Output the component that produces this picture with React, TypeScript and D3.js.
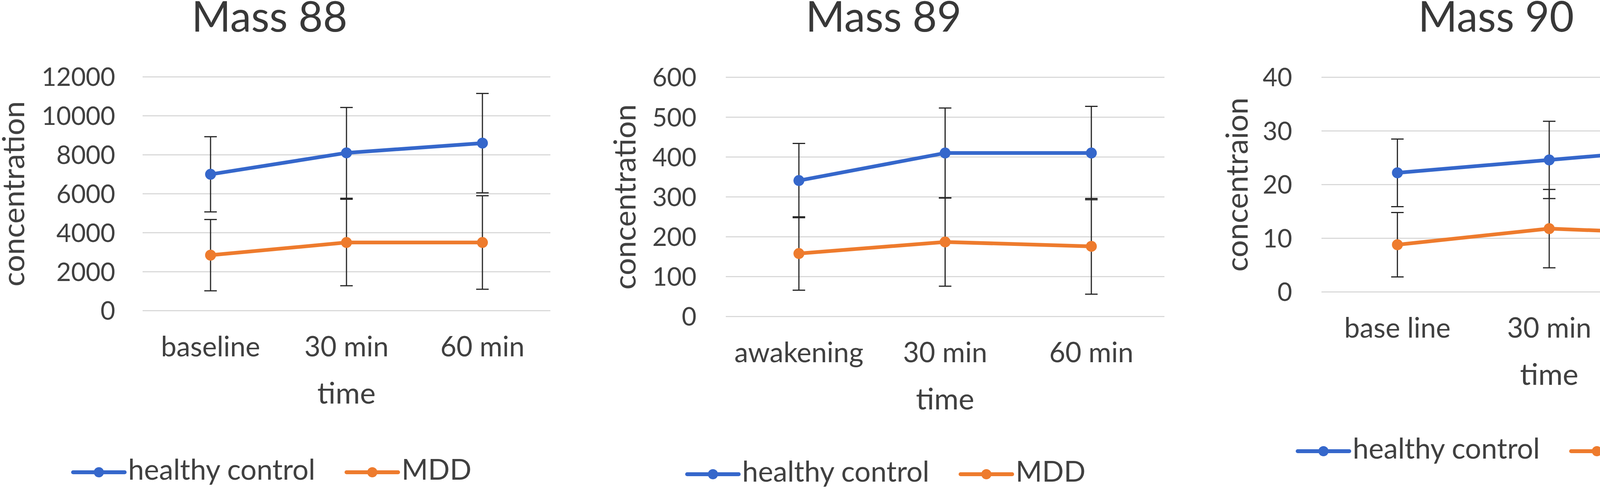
import React, { useEffect, useRef } from "react";
import * as d3 from "d3";

// ---------- Data ----------
const seriesNames = ["healthy control", "MDD"];
const titles = ["Mass 88", "Mass 89", "Mass 90"];
const yTitles = ["concentration", "concentration", "concentraion"];

const categories88 = ["baseline", "30 min", "60 min"];
const healthy88 = [7000, 8100, 8600];
const healthyErr88 = [1930, 2330, 2550];
const mdd88 = [2850, 3500, 3500];
const mddErr88 = [1830, 2220, 2400];
const ticks88 = [0, 2000, 4000, 6000, 8000, 10000, 12000];

const categories89 = ["awakening", "30 min", "60 min"];
const healthy89 = [341, 410, 410];
const healthyErr89 = [93, 113, 117];
const mdd89 = [158, 187, 176];
const mddErr89 = [92, 111, 120];
const ticks89 = [0, 100, 200, 300, 400, 500, 600];

const categories90 = ["base line", "30 min", "60 min"];
const healthy90 = [22.2, 24.6, 27];
const healthyErr90 = [6.3, 7.2, 8.8];
const mdd90 = [8.8, 11.8, 10.7];
const mddErr90 = [6.0, 7.3, 8.6];
const ticks90 = [0, 10, 20, 30, 40];

// ---------- Layout (pixels) ----------
const W = 4550;
const H = 1258;
const BLUE = "#3567cb";
const ORANGE = "#ee7b2d";
const TEXT = "#404040";
const GRID = "#d3d3d3";
const FONT = "Lato, 'Open Sans', sans-serif";

interface Panel {
  title: string;
  yTitle: string;
  categories: string[];
  healthy: number[];
  healthyErr: number[];
  mdd: number[];
  mddErr: number[];
  ticks: number[];
  left: number;
  right: number;
  top: number;
  bottom: number;
  tickRight: number;
  yTitleX: number;
  centerX: number;
  legendX: number;
  legendY: number;
}

const panels: Panel[] = [
  {
    title: titles[0], yTitle: yTitles[0], categories: categories88,
    healthy: healthy88, healthyErr: healthyErr88, mdd: mdd88, mddErr: mddErr88, ticks: ticks88,
    left: 365, right: 1409, top: 197, bottom: 796, tickRight: 295, yTitleX: 62,
    centerX: 690, legendX: 697, legendY: 1210,
  },
  {
    title: titles[1], yTitle: yTitles[1], categories: categories89,
    healthy: healthy89, healthyErr: healthyErr89, mdd: mdd89, mddErr: mddErr89, ticks: ticks89,
    left: 1858, right: 2981, top: 198, bottom: 811, tickRight: 1783, yTitleX: 1627,
    centerX: 2262, legendX: 2269, legendY: 1215,
  },
  {
    title: titles[2], yTitle: yTitles[2], categories: categories90,
    healthy: healthy90, healthyErr: healthyErr90, mdd: mdd90, mddErr: mddErr90, ticks: ticks90,
    left: 3383, right: 4549, top: 198, bottom: 748, tickRight: 3308, yTitleX: 3194,
    centerX: 3830, legendX: 3832, legendY: 1156,
  },
];

const App: React.FC = () => {
  const svgRef = useRef<SVGSVGElement | null>(null);

  useEffect(() => {
    const svg = d3.select(svgRef.current);
    svg.selectAll("*").remove();

    panels.forEach((p) => {
      const g = svg.append("g");

      const x = d3.scaleBand<string>().domain(p.categories).range([p.left, p.right]).padding(0);
      const y = d3
        .scaleLinear()
        .domain([0, d3.max(p.ticks)!])
        .range([p.bottom, p.top]);
      const cx = (c: string) => x(c)! + x.bandwidth() / 2;

      // Title
      g.append("text")
        .attr("x", p.centerX)
        .attr("y", 81)
        .attr("text-anchor", "middle")
        .attr("font-family", FONT)
        .attr("font-size", 108)
        .attr("fill", "#383838")
        .text(p.title);

      // Gridlines + tick labels
      g.selectAll(".grid")
        .data(p.ticks)
        .enter()
        .append("line")
        .attr("x1", p.left)
        .attr("x2", p.right)
        .attr("y1", (d) => y(d))
        .attr("y2", (d) => y(d))
        .attr("stroke", GRID)
        .attr("stroke-width", 2.5);

      g.selectAll(".tick")
        .data(p.ticks)
        .enter()
        .append("text")
        .attr("x", p.tickRight)
        .attr("y", (d) => y(d))
        .attr("dy", "0.36em")
        .attr("text-anchor", "end")
        .attr("font-family", FONT)
        .attr("font-size", 65)
        .attr("fill", TEXT)
        .text((d) => String(d));

      // Category labels
      g.selectAll(".cat")
        .data(p.categories)
        .enter()
        .append("text")
        .attr("x", (d) => cx(d))
        .attr("y", p.bottom + 117)
        .attr("text-anchor", "middle")
        .attr("font-family", FONT)
        .attr("font-size", 71)
        .attr("fill", TEXT)
        .text((d) => d);

      // Axis titles
      g.append("text")
        .attr("x", (p.left + p.right) / 2)
        .attr("y", p.bottom + 238)
        .attr("text-anchor", "middle")
        .attr("font-family", FONT)
        .attr("font-size", 76)
        .attr("fill", TEXT)
        .text("time");

      g.append("text")
        .attr("transform", `translate(${p.yTitleX},${(p.top + p.bottom) / 2}) rotate(-90)`)
        .attr("text-anchor", "middle")
        .attr("font-family", FONT)
        .attr("font-size", 78)
        .attr("fill", TEXT)
        .text(p.yTitle);

      const series = [
        { values: p.healthy, errs: p.healthyErr, color: BLUE },
        { values: p.mdd, errs: p.mddErr, color: ORANGE },
      ];

      // Error bars (behind lines)
      series.forEach((s) => {
        p.categories.forEach((c, i) => {
          const hi = y(s.values[i] + s.errs[i]);
          const lo = y(s.values[i] - s.errs[i]);
          const xc = cx(c);
          g.append("line")
            .attr("x1", xc).attr("x2", xc).attr("y1", hi).attr("y2", lo)
            .attr("stroke", "#262626").attr("stroke-width", 3);
          [hi, lo].forEach((yy) =>
            g.append("line")
              .attr("x1", xc - 16).attr("x2", xc + 16).attr("y1", yy).attr("y2", yy)
              .attr("stroke", "#262626").attr("stroke-width", 3)
          );
        });
      });

      // Lines + markers
      const line = d3
        .line<number>()
        .x((_, i) => cx(p.categories[i]))
        .y((d) => y(d));

      series.forEach((s) => {
        g.append("path")
          .datum(s.values)
          .attr("fill", "none")
          .attr("stroke", s.color)
          .attr("stroke-width", 9.5)
          .attr("stroke-linejoin", "round")
          .attr("d", line);
        g.selectAll(null)
          .data(s.values)
          .enter()
          .append("circle")
          .attr("cx", (_, i) => cx(p.categories[i]))
          .attr("cy", (d) => y(d))
          .attr("r", 14)
          .attr("fill", s.color);
      });

      // Legend
      const lg = g.append("g");
      let pos = 0;
      series.forEach((s, i) => {
        if (i > 0) pos += 80;
        lg.append("line")
          .attr("x1", pos).attr("x2", pos + 132)
          .attr("y1", p.legendY).attr("y2", p.legendY)
          .attr("stroke", s.color).attr("stroke-width", 10)
          .attr("stroke-linecap", "round");
        lg.append("circle")
          .attr("cx", pos + 66).attr("cy", p.legendY).attr("r", 13)
          .attr("fill", s.color);
        pos += 141;
        const t = lg.append("text")
          .attr("x", pos)
          .attr("y", p.legendY + 19)
          .attr("font-family", FONT)
          .attr("font-size", 73)
          .attr("fill", TEXT)
          .text(seriesNames[i]);
        pos += (t.node() as SVGTextElement).getComputedTextLength();
      });
      lg.attr("transform", `translate(${p.legendX - pos / 2},0)`);
    });
  }, []);

  return (
    <svg
      ref={svgRef}
      width={W}
      height={H}
      style={{ position: "absolute", left: 0, top: 0, display: "block", background: "#fff" }}
    />
  );
};

export default App;
